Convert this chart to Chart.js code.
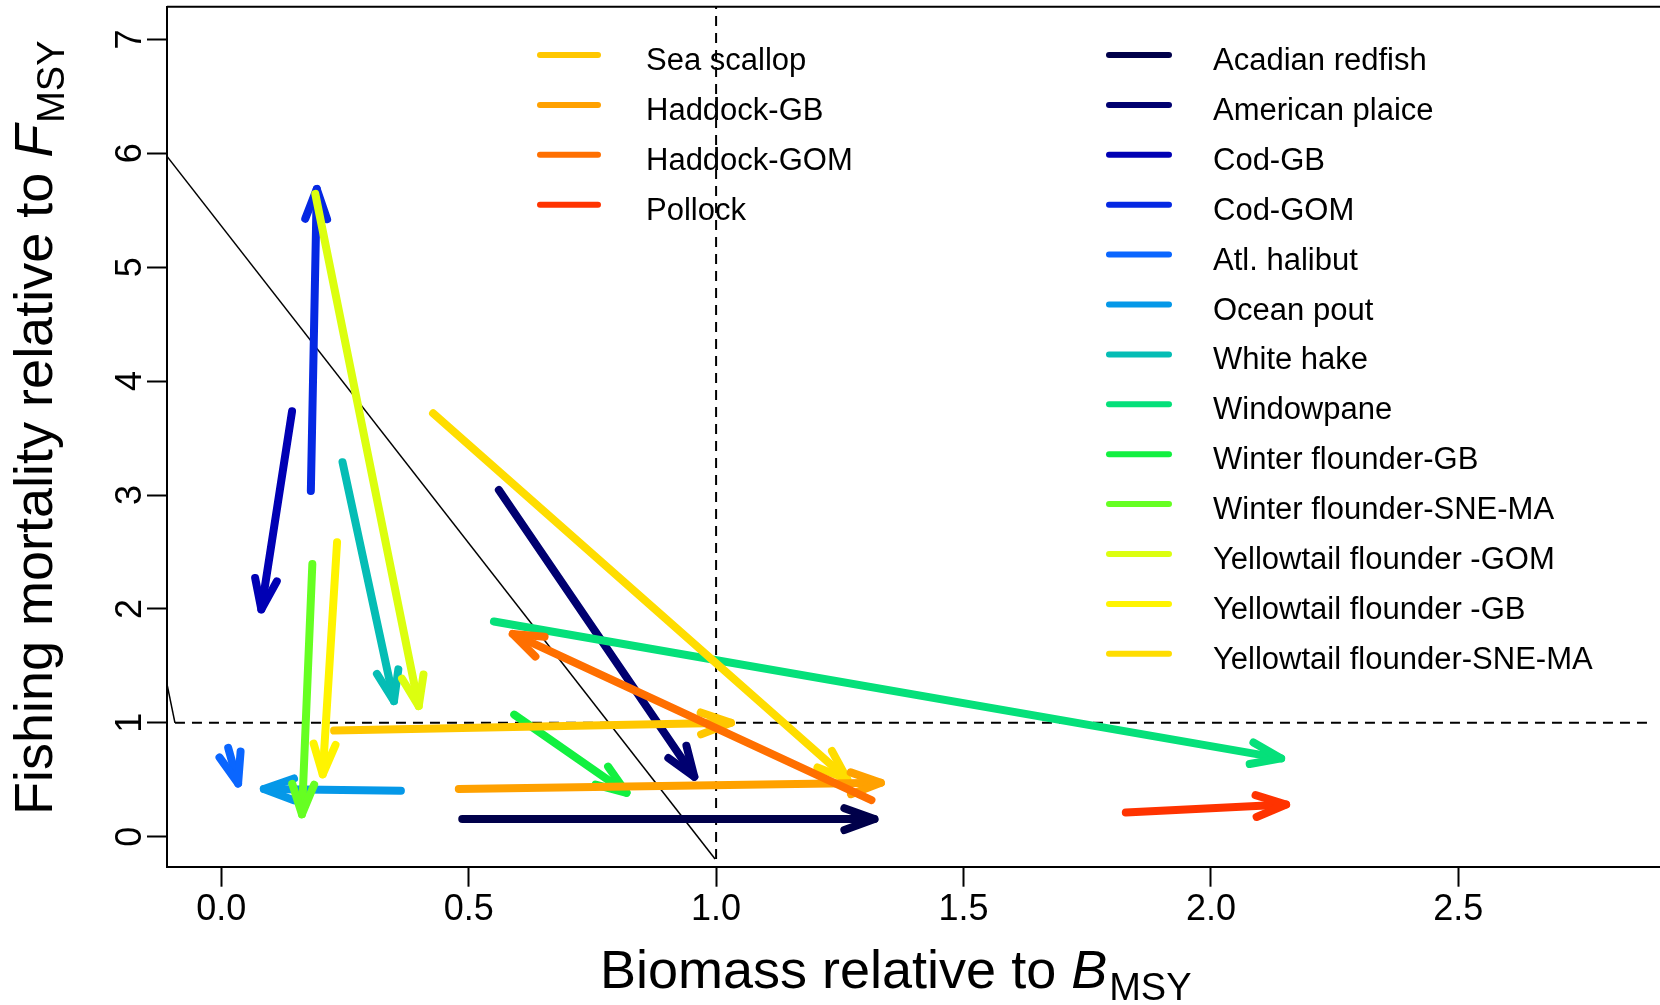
<!DOCTYPE html>
<html>
<head>
<meta charset="utf-8">
<title>Stock status: biomass vs fishing mortality</title>
<script src="https://cdn.jsdelivr.net/npm/chart.js@4.4.1/dist/chart.umd.min.js"></script>
<style>
  html, body { margin: 0; padding: 0; background: #fff; }
  #wrap { width: 1660px; height: 1005px; }
</style>
</head>
<body>
<div id="wrap"><canvas id="kobe" width="1660" height="1005"></canvas></div>
<script>
// species, in colour order (dark blue -> red)
const species = [
    'Acadian redfish', 'American plaice', 'Cod-GB', 'Cod-GOM', 'Atl. halibut',
    'Ocean pout', 'White hake', 'Windowpane', 'Winter flounder-GB',
    'Winter flounder-SNE-MA', 'Yellowtail flounder -GOM', 'Yellowtail flounder -GB',
    'Yellowtail flounder-SNE-MA', 'Sea scallop', 'Haddock-GB', 'Haddock-GOM', 'Pollock'
];
// B/Bmsy and F/Fmsy at the start and end of each arrow
const startB = [0.487, 0.561, 0.143, 0.181, 0.014, 0.363, 0.245, 0.551, 0.592, 0.184, 0.190, 0.234, 0.428, 0.228, 0.480, 1.314, 1.828];
const startF = [0.155, 3.044, 3.735, 3.035, 0.780, 0.404, 3.288, 1.890, 1.072, 2.394, 5.644, 2.585, 3.717, 0.932, 0.420, 0.322, 0.212];
const endB   = [1.320, 0.956, 0.081, 0.193, 0.034, 0.086, 0.349, 2.142, 0.819, 0.163, 0.399, 0.205, 1.265, 1.030, 1.333, 0.589, 2.152];
const endF   = [0.155, 0.527, 1.996, 5.687, 0.468, 0.419, 1.191, 0.688, 0.386, 0.197, 1.147, 0.548, 0.506, 1.000, 0.473, 1.780, 0.283];

const speciesColors = [
    '#00004a', '#000070', '#0000b4', '#0528e3', '#0a66ff', '#0598e8', '#05bdb5',
    '#05e07a', '#12f040', '#66ff22', '#dcff0f', '#fff400', '#ffdd00', '#ffc700',
    '#ffa100', '#ff6f00', '#ff3300'
];

const xTickValues = [0, 0.5, 1, 1.5, 2, 2.5];
const xTickLabels = ['0.0', '0.5', '1.0', '1.5', '2.0', '2.5'];
const yTickValues = [0, 1, 2, 3, 4, 5, 6, 7];
const yTickLabels = ['0', '1', '2', '3', '4', '5', '6', '7'];

// reference lines
const diagB = [-0.11, 0.998];
const diagF = [5.975, -0.196];
const kinkB = [-0.11, -0.0936];
const kinkF = [1.347, 1.0];
const refVB = [1, 1];
const refVF = [-0.196, 7.3];
const refHB = [-0.0936, 2.886];
const refHF = [1, 1];

const leftLegendCount = 4; // last four species sit in the left legend column

const FONT = '"Liberation Sans", Arial, Helvetica, sans-serif';

function pairs(bs, fs) {
    return bs.map(function(b, i) { return { x: b, y: fs[i] }; });
}

const datasets = species.map(function(name, i) {
    return {
        label: name,
        data: [{ x: startB[i], y: startF[i] }, { x: endB[i], y: endF[i] }],
        showLine: true,
        borderColor: speciesColors[i],
        backgroundColor: speciesColors[i],
        borderWidth: 8,
        borderCapStyle: 'round',
        borderJoinStyle: 'round',
        pointRadius: 0,
        isArrow: true,
        order: species.length - i
    };
});

function refLine(data, width, dash) {
    return {
        label: '',
        data: data,
        showLine: true,
        borderColor: '#000',
        borderWidth: width,
        borderDash: dash,
        pointRadius: 0,
        order: 100
    };
}
datasets.push(refLine(pairs(diagB, diagF), 1.5, []));
datasets.push(refLine(pairs(kinkB, kinkF), 1.5, []));
datasets.push(refLine(pairs(refVB, refVF), 2, [10, 7]));
datasets.push(refLine(pairs(refHB, refHF), 2, [10, 7]));

// R-style arrow heads, drawn right after each arrow so stacking stays in order
const arrowHeads = {
    id: 'arrowHeads',
    afterDatasetDraw(chart, args) {
        const ds = chart.data.datasets[args.index];
        if (!ds.isArrow) return;
        const a = args.meta.data[0], b = args.meta.data[1];
        const ang = Math.atan2(b.y - a.y, b.x - a.x);
        const len = 32, spread = 20 * Math.PI / 180;
        const ctx = chart.ctx, area = chart.chartArea;
        ctx.save();
        ctx.beginPath();
        ctx.rect(area.left, area.top, area.right - area.left, area.bottom - area.top);
        ctx.clip();
        ctx.strokeStyle = ds.borderColor;
        ctx.lineWidth = ds.borderWidth;
        ctx.lineCap = 'round';
        ctx.lineJoin = 'round';
        ctx.beginPath();
        ctx.moveTo(b.x - len * Math.cos(ang - spread), b.y - len * Math.sin(ang - spread));
        ctx.lineTo(b.x, b.y);
        ctx.lineTo(b.x - len * Math.cos(ang + spread), b.y - len * Math.sin(ang + spread));
        ctx.stroke();
        ctx.restore();
    }
};

// titles with subscripts, rotated y tick labels, top border and the two-column legend
const decorations = {
    id: 'decorations',
    afterDraw(chart) {
        const ctx = chart.ctx, area = chart.chartArea;
        const yScale = chart.scales.y;
        ctx.save();

        // top border of the box
        ctx.strokeStyle = '#000';
        ctx.lineWidth = 2;
        ctx.beginPath();
        ctx.moveTo(area.left, area.top);
        ctx.lineTo(area.right, area.top);
        ctx.stroke();

        // y tick labels, reading bottom to top like R
        ctx.fillStyle = '#000';
        ctx.font = '36px ' + FONT;
        ctx.textAlign = 'center';
        ctx.textBaseline = 'alphabetic';
        yScale.ticks.forEach(function(t, i) {
            const py = yScale.getPixelForValue(t.value);
            ctx.save();
            ctx.translate(141, py);
            ctx.rotate(-Math.PI / 2);
            ctx.fillText(yTickLabels[i], 0, 0);
            ctx.restore();
        });

        // axis titles
        function titleWithSub(main, sym, sub) {
            ctx.textAlign = 'left';
            ctx.font = '54px ' + FONT;
            ctx.fillText(main, 0, 0);
            let w = ctx.measureText(main).width;
            ctx.font = 'italic 54px ' + FONT;
            ctx.fillText(sym, w, 0);
            w += ctx.measureText(sym).width + 2;
            ctx.font = '38px ' + FONT;
            ctx.fillText(sub, w, 12);
        }
        ctx.save();
        ctx.translate(600, 988);
        titleWithSub('Biomass relative to ', 'B', 'MSY');
        ctx.restore();
        ctx.save();
        ctx.translate(52, 815);
        ctx.rotate(-Math.PI / 2);
        titleWithSub('Fishing mortality relative to ', 'F', 'MSY');
        ctx.restore();

        // legend: two columns inside the plot
        const nLeft = leftLegendCount;
        const nRight = species.length - nLeft;
        function legendRow(i, row, x0, x1, tx) {
            const y = 55 + row * 49.9;
            ctx.strokeStyle = speciesColors[i];
            ctx.lineWidth = 6;
            ctx.lineCap = 'round';
            ctx.beginPath();
            ctx.moveTo(x0, y);
            ctx.lineTo(x1, y);
            ctx.stroke();
            ctx.fillStyle = '#000';
            ctx.font = '31px ' + FONT;
            ctx.textAlign = 'left';
            ctx.textBaseline = 'alphabetic';
            ctx.fillText(species[i], tx, y + 15);
        }
        for (let r = 0; r < nLeft; r++) legendRow(nRight + r, r, 540, 598, 646);
        for (let r = 0; r < nRight; r++) legendRow(r, r, 1109, 1169, 1213);

        ctx.restore();
    }
};

const ctx = document.getElementById('kobe').getContext('2d');
const kobeChart = new Chart(ctx, {
    type: 'scatter',
    data: { datasets: datasets },
    options: {
        responsive: false,
        animation: false,
        layout: { padding: { top: 6.7, right: 0, left: 0, bottom: 0 } },
        plugins: {
            legend: { display: false },
            tooltip: { enabled: false }
        },
        scales: {
            x: {
                type: 'linear',
                min: -0.1097,
                max: 2.9076,
                afterBuildTicks: function(scale) {
                    scale.ticks = xTickValues.map(function(v) { return { value: v }; });
                },
                afterFit: function(scale) { scale.height = 138.3; },
                grid: {
                    drawOnChartArea: false,
                    drawTicks: true,
                    tickLength: 20,
                    tickColor: '#000',
                    tickWidth: 2
                },
                border: { display: true, color: '#000', width: 2 },
                ticks: {
                    color: '#000',
                    padding: 2,
                    maxRotation: 0,
                    autoSkip: false,
                    font: { family: FONT, size: 36 },
                    callback: function(value, index) { return xTickLabels[index]; }
                }
            },
            y: {
                type: 'linear',
                min: -0.263,
                max: 7.287,
                afterBuildTicks: function(scale) {
                    scale.ticks = yTickValues.map(function(v) { return { value: v }; });
                },
                afterFit: function(scale) { scale.width = 167; },
                grid: {
                    drawOnChartArea: false,
                    drawTicks: true,
                    tickLength: 20,
                    tickColor: '#000',
                    tickWidth: 2
                },
                border: { display: true, color: '#000', width: 2 },
                ticks: { display: false }
            }
        }
    },
    plugins: [arrowHeads, decorations]
});
</script>
</body>
</html>
